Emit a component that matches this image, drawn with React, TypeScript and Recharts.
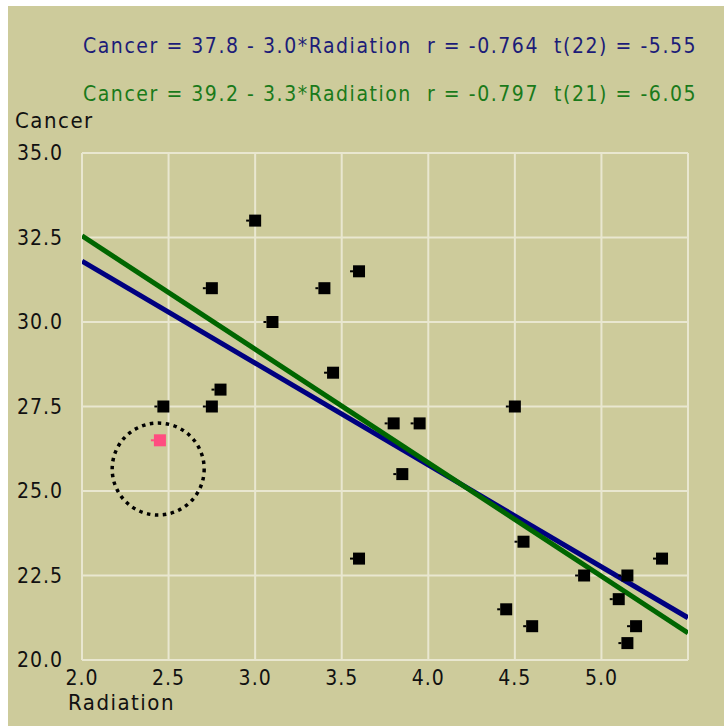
import { CartesianGrid, ReferenceDot, Scatter, ScatterChart, XAxis, YAxis } from 'recharts';

// Radiation exposure vs cancer mortality, with one outlier flagged.
const radiation = [2.47, 3.0, 2.75, 2.75, 2.8, 3.1, 3.4, 3.6, 3.45, 3.8, 3.95, 3.85, 3.6, 4.5, 4.55, 4.45, 4.6, 4.9, 5.1, 5.15, 5.15, 5.2, 5.35];
const cancer = [27.5, 33.0, 31.0, 27.5, 28.0, 30.0, 31.0, 31.5, 28.5, 27.0, 27.0, 25.5, 23.0, 27.5, 23.5, 21.5, 21.0, 22.5, 21.8, 22.5, 20.5, 21.0, 23.0];
const outlier = [{ x: 2.45, y: 26.5 }];
const outlierRing = { x: 2.44, y: 25.65 };

// regression line ends (all 24 points, then without the outlier)
const fitAll = [{ x: 2.0, y: 31.8 }, { x: 5.5, y: 21.25 }];
const fitNoOutlier = [{ x: 2.0, y: 32.55 }, { x: 5.5, y: 20.8 }];

const xTicks = [2.0, 2.5, 3.0, 3.5, 4.0, 4.5, 5.0];
const yTicks = [20.0, 22.5, 25.0, 27.5, 30.0, 32.5, 35.0];

const title1 = 'Cancer = 37.8 - 3.0*Radiation  r = -0.764  t(22) = -5.55';
const title2 = 'Cancer = 39.2 - 3.3*Radiation  r = -0.797  t(21) = -6.05';

const points = radiation.map((x, i) => ({ x, y: cancer[i] }));

const FONT = '"DejaVu Sans Condensed", "Liberation Sans", sans-serif';
const BG = '#cdcb9b';

function SquareMark(props: any) {
  const { cx, cy, fill } = props;
  if (cx == null || cy == null) return <g />;
  return (
    <g>
      <rect x={cx - 6} y={cy - 6} width={12} height={12} fill={fill} />
      <rect x={cx - 9} y={cy - 1} width={3} height={2} fill={fill} />
    </g>
  );
}

const NoMark = () => <g />;

const tickStyle = { fontFamily: FONT, fontSize: 21, fill: '#111', letterSpacing: 1 };

export default function App() {
  return (
    <div style={{ position: 'absolute', left: 0, top: 0, width: 724, height: 726, background: '#fff' }}>
      <style>{'body{margin:0}'}</style>
      <div style={{ position: 'absolute', left: 8, top: 6, width: 716, height: 720, background: BG }}>
        <ScatterChart width={716} height={720} margin={{ top: 147, right: 36, bottom: 26, left: 14 }}>
          <CartesianGrid stroke="#e9e7d0" strokeWidth={2} />
          <XAxis
            type="number"
            dataKey="x"
            domain={[2, 5.5]}
            ticks={xTicks}
            allowDataOverflow
            axisLine={false}
            tickLine={false}
            tickSize={0}
            tickMargin={10}
            height={40}
            tick={tickStyle}
            tickFormatter={(v: number) => v.toFixed(1)}
          />
          <YAxis
            type="number"
            dataKey="y"
            domain={[20, 35]}
            ticks={yTicks}
            allowDataOverflow
            axisLine={false}
            tickLine={false}
            tickSize={0}
            tickMargin={19}
            width={60}
            tick={tickStyle}
            tickFormatter={(v: number) => v.toFixed(1)}
          />
          <Scatter data={fitAll} line={{ stroke: '#000080', strokeWidth: 5 }} shape={NoMark} isAnimationActive={false} />
          <Scatter data={fitNoOutlier} line={{ stroke: '#006600', strokeWidth: 5 }} shape={NoMark} isAnimationActive={false} />
          <Scatter data={points} fill="#000" shape={SquareMark} isAnimationActive={false} />
          <Scatter data={outlier} fill="#ff4d80" shape={SquareMark} isAnimationActive={false} />
          <ReferenceDot
            x={outlierRing.x}
            y={outlierRing.y}
            r={46}
            fill="none"
            stroke="#000"
            strokeWidth={3.5}
            strokeDasharray="3.5 4.5"
          />
        </ScatterChart>
        <div style={{ position: 'absolute', left: 75, top: 28, whiteSpace: 'pre', fontFamily: FONT, fontSize: 21, letterSpacing: 1.55, color: '#1c1c78' }}>
          {title1}
        </div>
        <div style={{ position: 'absolute', left: 75, top: 76, whiteSpace: 'pre', fontFamily: FONT, fontSize: 21, letterSpacing: 1.55, color: '#1a7a1a' }}>
          {title2}
        </div>
        <div style={{ position: 'absolute', left: 7, top: 102, fontFamily: FONT, fontSize: 22, letterSpacing: 1.5, color: '#111' }}>
          Cancer
        </div>
        <div style={{ position: 'absolute', left: 60, top: 684, fontFamily: FONT, fontSize: 22, letterSpacing: 1.5, color: '#111' }}>
          Radiation
        </div>
      </div>
    </div>
  );
}
